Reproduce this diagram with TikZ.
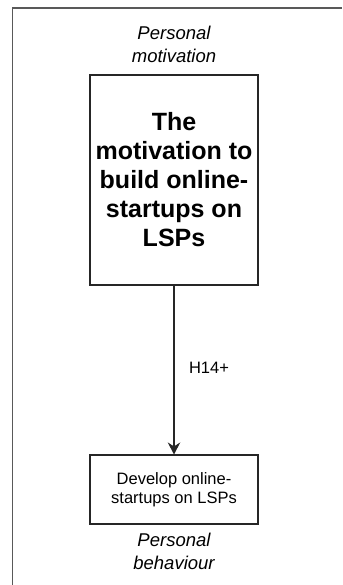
\documentclass[tikz,border=0pt]{standalone}
\usepackage{fontspec}
\setmainfont{Liberation Sans}
\usetikzlibrary{arrows.meta}
\begin{document}
\begin{tikzpicture}[x=1pt,y=-1pt,
  box/.style={draw=black!85, line width=1.1pt, fill=white, align=center, inner sep=0pt},
  caption/.style={align=center, font=\fontsize{18.5}{23}\selectfont\itshape},
  link/.style={draw=black!85, line width=1.1pt, -{Stealth[length=12pt,width=12.5pt,inset=4pt]}},
  frame/.style={draw=black!65, line width=1.1pt}
]
\useasboundingbox (0,0) rectangle (342,585);
\fill[white] (0,0) rectangle (342,585);

% open frame around the model
\coordinate (fbl) at (12.5,585);
\coordinate (ftl) at (12.5,8);
\coordinate (ftr) at (342,8);
\draw[frame] (fbl) -- (ftl) -- (ftr);

% construct: motivation
\node[box, minimum width=168pt, minimum height=210pt,
      font=\fontsize{25}{29}\selectfont\bfseries] (mot) at (174,180)
  {The\\motivation to\\build online-\\startups on\\LSPs};
\node[caption] (motcap) at (174,44) {Personal\\motivation};

% construct: behaviour
\node[box, minimum width=168pt, minimum height=69pt,
      font=\fontsize{16.5}{19}\selectfont] (beh) at (174,489.5)
  {Develop online-\\startups on LSPs};
\node[caption] (behcap) at (174,551) {Personal\\behaviour};

% hypothesis
\draw[link] (mot.south) -- (beh.north);
\node[font=\fontsize{16.5}{19}\selectfont] (h14) at (209,368) {H14+};
\end{tikzpicture}
\end{document}
